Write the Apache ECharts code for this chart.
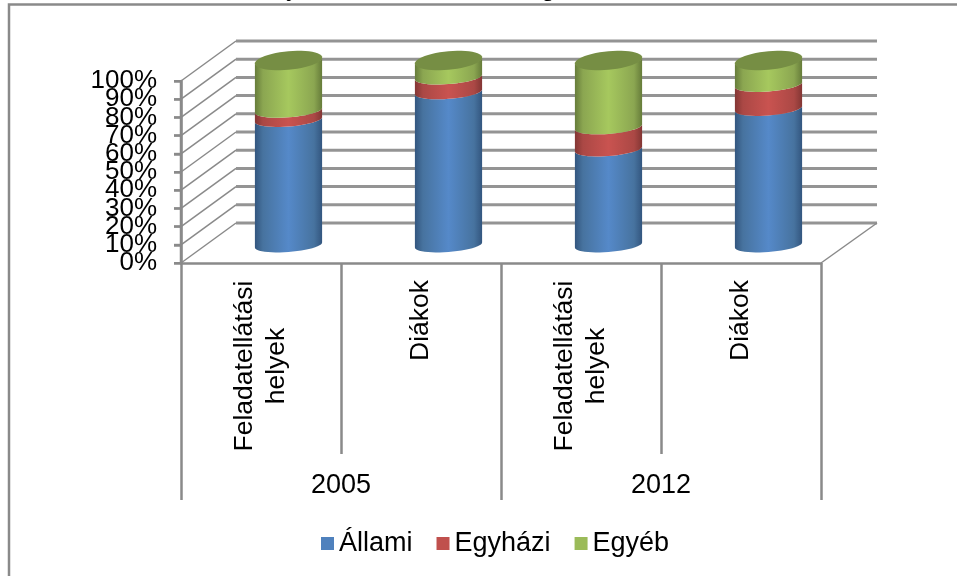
<!DOCTYPE html>
<html>
<head>
<meta charset="utf-8">
<style>html,body{margin:0;padding:0;background:#fff}#c{width:957px;height:576px}</style>
<script src="https://cdn.jsdelivr.net/npm/echarts@6/dist/echarts.min.js"></script>
</head>
<body>
<div id="c"></div>
<script>
var categories = ['Feladatellátási\nhelyek', 'Diákok', 'Feladatellátási\nhelyek', 'Diákok'];
var years = ['2005', '2012'];
var seriesNames = ['Állami', 'Egyházi', 'Egyéb'];
var allami = [68, 83, 52, 74];
var egyhazi = [5, 8, 12, 13];
var egyeb = [27, 9, 36, 13];
var yTicks = [0, 10, 20, 30, 40, 50, 60, 70, 80, 90, 100];

var FONT = 'Liberation Sans, Arial, sans-serif';
var GRAY = '#8a8a8a';
var DEPTH_X = 55, DEPTH_Y = 40;
var chart = echarts.init(document.getElementById('c'), null, {renderer: 'canvas'});

function grad(edge, mid) {
  return new echarts.graphic.LinearGradient(0, 0, 1, 0, [
    {offset: 0, color: edge}, {offset: 0.12, color: mid[0]},
    {offset: 0.5, color: mid[1]}, {offset: 0.88, color: mid[0]}, {offset: 1, color: edge}
  ]);
}
var fills = [
  grad('#33567f', ['#47739f', '#5589c9']),
  grad('#833634', ['#ab4845', '#c95350']),
  grad('#667c3a', ['#8ba651', '#a6c85e'])
];
var legendColors = ['#4F81BD', '#C0504D', '#9BBB59'];

function arc(cx, cy, a, b, s, reverse) {
  var pts = [];
  for (var i = 0; i <= 24; i++) {
    var t = Math.PI * i / 24;
    var x = cx + a * Math.cos(t);
    var y = cy + b * Math.sin(t) - s * Math.cos(t);
    pts.push([x, y]);
  }
  if (reverse) pts.reverse();
  return pts;
}

function cylinderSeries(idx, values, bases) {
  return {
    name: seriesNames[idx], type: 'custom', xAxisIndex: 2, yAxisIndex: 1, z: 5, clip: false,
    itemStyle: {color: legendColors[idx]},
    encode: {x: 0, y: [1, 2]},
    data: values.map(function (v, i) { return [i, bases[i], bases[i] + v]; }),
    renderItem: function (params, api) {
      var i = api.value(0);
      var p0 = api.coord([i, api.value(1)]);
      var p1 = api.coord([i, api.value(2)]);
      var a = api.size([1, 0])[0] * 0.21;
      var body = arc(p0[0], p0[1], a, 7, 2.5, false).concat(arc(p1[0], p1[1], a, 7, 2.5, true));
      var kids = [{type: 'polygon', shape: {points: body}, style: {fill: fills[idx], stroke: null}}];
      if (idx === 2) {
        var top = arc(p1[0], p1[1], a, 9.3, 3, false);
        var back = arc(p1[0], p1[1], a, -9.3, 3, true);
        kids.push({type: 'polygon', shape: {points: top.concat(back)}, style: {fill: '#768e44', stroke: null}});
      }
      return {type: 'group', children: kids};
    }
  };
}

var stack1 = allami.slice();
var stack2 = allami.map(function (v, i) { return v + egyhazi[i]; });

function yLabelAxis(evenTens) {
  return {
    type: 'value', gridIndex: 0, position: 'left', min: 0, max: 100, interval: 10,
    axisLine: {show: evenTens, onZero: false, lineStyle: {color: GRAY, width: 2.5}},
    axisTick: {show: evenTens, length: 7, lineStyle: {color: GRAY, width: 2.5}},
    splitLine: {show: false},
    axisLabel: {
      margin: 24, color: '#000', fontFamily: FONT, fontSize: 26, hideOverlap: false,
      padding: [6, 0, 0, 0],
      showMinLabel: true, showMaxLabel: true,
      formatter: function (v) { return ((v % 20 === 0) === evenTens) ? v + '%' : ''; }
    }
  };
}

var option = {
  animation: false,
  backgroundColor: '#fff',
  textStyle: {fontFamily: FONT},
  grid: [
    {left: 181, top: 81, width: 640, height: 182},
    {left: 208.5, top: 60.5, width: 640, height: 184.5}
  ],
  xAxis: [
    {
      type: 'category', gridIndex: 0, position: 'bottom', data: categories,
      axisLine: {show: true, lineStyle: {color: GRAY, width: 2.5}},
      axisTick: {show: true, length: 191, lineStyle: {color: GRAY, width: 2.5}},
      axisLabel: {
        interval: 0, rotate: 90, margin: 17, align: 'right', verticalAlign: 'middle',
        color: '#000', fontFamily: FONT, fontSize: 26.5, lineHeight: 32,
        formatter: function (v) {
          if (v.indexOf('\n') < 0) return v;
          return v.split('\n').map(function (l) { return '{w|' + l + '}'; }).join('\n');
        },
        rich: {w: {width: 172, align: 'center', fontFamily: FONT, fontSize: 26.5, lineHeight: 32, color: '#000'}}
      }
    },
    {
      type: 'category', gridIndex: 0, position: 'bottom', data: years,
      axisLine: {show: false},
      axisTick: {show: true, length: 237, lineStyle: {color: GRAY, width: 2.5}},
      axisLabel: {interval: 0, margin: 209, color: '#000', fontFamily: FONT, fontSize: 27}
    },
    {type: 'category', gridIndex: 1, show: false, data: categories}
  ],
  yAxis: [
    yLabelAxis(true),
    {type: 'value', gridIndex: 1, min: 0, max: 100, interval: 10, show: false},
    yLabelAxis(false)
  ],
  legend: {
    left: 321, top: 530, padding: 0, itemWidth: 13, itemHeight: 13, itemGap: 24,
    icon: 'rect', data: seriesNames,
    textStyle: {color: '#000', fontFamily: FONT, fontSize: 27}
  },
  graphic: {
    elements: [
      {type: 'polyline', silent: true, z: 1, shape: {points: [[9, 576], [9, 4.5], [957, 4.5]]},
        style: {stroke: GRAY, lineWidth: 2.5, fill: null}},
      {type: 'text', left: 286, top: -24, silent: true, style: {text: 'y', fill: '#000', font: '26px ' + FONT}},
      {type: 'text', left: 541, top: -24, silent: true, style: {text: 'g', fill: '#000', font: '26px ' + FONT}},
      {type: 'text', left: 889, top: -25, silent: true, style: {text: ',', fill: '#000', font: '26px ' + FONT}}
    ]
  },
  series: [
    {
      type: 'custom', xAxisIndex: 0, yAxisIndex: 0, z: 2, clip: false, silent: true,
      encode: {x: 0, y: 1},
      data: yTicks.map(function (v) { return [0, v]; }),
      renderItem: function (params, api) {
        var v = api.value(1);
        var p = api.coord([0, v]);
        var w = api.size([1, 0])[0];
        var L = p[0] - w / 2, R = L + 4 * w, y = p[1];
        var kids = [
          {type: 'line', shape: {x1: L - 7, y1: y, x2: L, y2: y}, style: {stroke: GRAY, lineWidth: 2}},
          {type: 'line', shape: {x1: L, y1: y, x2: L + DEPTH_X, y2: y - DEPTH_Y},
            style: {stroke: GRAY, lineWidth: 1.5}},
          {type: 'line', shape: {x1: L + DEPTH_X, y1: y - DEPTH_Y, x2: R + DEPTH_X + 1, y2: y - DEPTH_Y},
            style: {stroke: '#949494', lineWidth: 3}}
        ];
        if (v === 0) {
          kids.push({type: 'line', shape: {x1: L, y1: y, x2: L, y2: api.coord([0, 100])[1]},
            style: {stroke: GRAY, lineWidth: 2.5}});
          kids.push({type: 'line', shape: {x1: R, y1: y, x2: R + DEPTH_X + 1, y2: y - DEPTH_Y},
            style: {stroke: GRAY, lineWidth: 1.5}});
        }
        return {type: 'group', children: kids};
      }
    },
    cylinderSeries(0, allami, [0, 0, 0, 0]),
    cylinderSeries(1, egyhazi, stack1),
    cylinderSeries(2, egyeb, stack2)
  ]
};
chart.setOption(option);
</script>
</body>
</html>
